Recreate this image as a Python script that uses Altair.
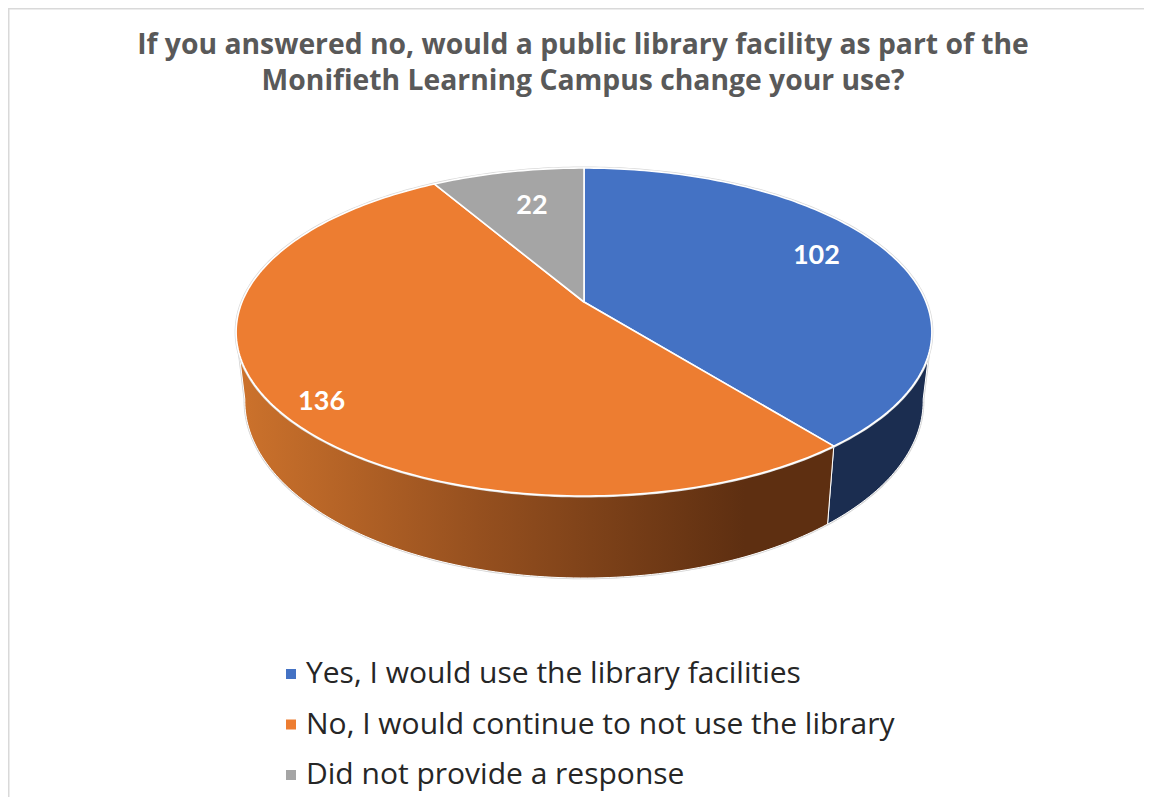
import math
import altair as alt
import pandas as pd

categories = ["Yes, I would use the library facilities",
              "No, I would continue to not use the library",
              "Did not provide a response"]
values = [102, 136, 22]
colors = ["#4472C4", "#ED7D31", "#A5A5A5"]
title_lines = ["If you answered no, would a public library facility as part of the",
               "Monifieth Learning Campus change your use?"]

# pie geometry (perspective projection of a disc onto the page)
CX, CY, A, B, K = 584.0, 302.0, 342.0, 158.5, 0.183
BX, BY0, BYS = 0.975, 368.5, 1.08
TOP_SIL, BOT_SIL = 108.0, 100.0


def top(t, r=1.0):
    u, v = math.sin(math.radians(t)) * r, math.cos(math.radians(t)) * r
    w = 1 + K * v
    return CX + A * u / w, CY - B * v / w


def bottom(t):
    u, v = math.sin(math.radians(t)), math.cos(math.radians(t))
    w = 1 + K * v
    return CX + BX * A * u / w, BY0 - BYS * B * v / w


def arange(a, b):
    n = max(2, int(abs(b - a)) + 1)
    return [a + (b - a) * i / (n - 1) for i in range(n)]


total = sum(values)
edges = [0.0]
for val in values:
    edges.append(edges[-1] + val / total * 360)

x_scale = alt.Scale(domain=[8, 1144], range=[0, 1136], nice=False, zero=False)
y_scale = alt.Scale(domain=[8, 797], range=[0, 789], nice=False, zero=False)
X = alt.X("x:Q", scale=x_scale, axis=None)
Y = alt.Y("y:Q", scale=y_scale, axis=None)


def poly(points, **mark):
    df = pd.DataFrame([{"x": p[0], "y": p[1], "i": i} for i, p in enumerate(points + points[:1])])
    return alt.Chart(df).mark_line(strokeJoin="round", clip=False, **mark).encode(
        x=X, y=Y, order=alt.Order("i:Q"))


blue_side = [top(t) for t in arange(TOP_SIL, edges[1])] + [bottom(t) for t in arange(edges[1], BOT_SIL)]
orange_side = [top(t) for t in arange(edges[1], 360 - TOP_SIL)] + [bottom(t) for t in arange(360 - BOT_SIL, edges[1])]
faces = [[(CX, CY)] + [top(t) for t in arange(edges[i], edges[i + 1])] for i in range(3)]
rim = [top(t) for t in arange(0, 360)]

orange_grad = alt.Gradient(gradient="linear", x1=0, x2=1, y1=0, y2=0, stops=[
    alt.GradientStop(offset=0, color="#CC722C"),
    alt.GradientStop(offset=0.4, color="#96501F"),
    alt.GradientStop(offset=0.85, color="#5E2F11"),
    alt.GradientStop(offset=1, color="#5E2F11")])

layers = []

# legend carrier, sits under the pie top
legend_df = pd.DataFrame({"category": categories, "x": [CX] * 3, "y": [CY] * 3})
layers.append(alt.Chart(legend_df).mark_square(size=30, opacity=1).encode(
    x=X, y=Y,
    color=alt.Color("category:N", sort=categories,
                    scale=alt.Scale(domain=categories, range=colors),
                    legend=alt.Legend(title=None, orient="none", legendX=268, legendY=651,
                                      symbolType="square", symbolSize=100, symbolOpacity=1,
                                      labelFont="Open Sans", labelFontSize=30, labelColor="#262626",
                                      labelLimit=700, rowPadding=20.5, labelOffset=0,
                                      symbolStrokeWidth=0))))

# sides
layers.append(poly(blue_side, fill="#1B2D50", stroke="#D2D2D2", strokeWidth=2.5))
layers.append(poly(orange_side, fill=orange_grad, stroke="#D2D2D2", strokeWidth=2.5))
layers.append(poly(blue_side, fill="#1B2D50", stroke="#FFFFFF", strokeWidth=1))
layers.append(poly(orange_side, fill=orange_grad, stroke="#FFFFFF", strokeWidth=1))

# top
layers.append(poly(rim, fill="#FFFFFF", stroke="#D9D9D9", strokeWidth=3))
for i in range(3):
    layers.append(poly(faces[i], fill=colors[i], stroke="#FFFFFF", strokeWidth=1.6))

# value labels
label_r = [0.76, 0.85, 0.70]
label_dx = [-2, 0, 4]
label_dy = [-8, 16, -1]
lab = []
for i, val in enumerate(values):
    lx, ly = top((edges[i] + edges[i + 1]) / 2, label_r[i])
    lab.append({"x": lx + label_dx[i], "y": ly + label_dy[i], "label": str(val)})
layers.append(alt.Chart(pd.DataFrame(lab)).mark_text(
    font="Lato", fontWeight="bold", fontSize=27, color="#FFFFFF", align="center", baseline="middle"
).encode(x=X, y=Y, text="label:N"))

# frame (left and top edges)
layers.append(alt.Chart(pd.DataFrame({"x": [8.5], "y": [8], "y2": [797]})).mark_rule(
    color="#D9D9D9", strokeWidth=2).encode(x=X, y=Y, y2="y2:Q"))
layers.append(alt.Chart(pd.DataFrame({"x": [8], "x2": [1144], "y": [8.5]})).mark_rule(
    color="#D9D9D9", strokeWidth=2).encode(x=X, x2="x2:Q", y=Y))

chart = alt.layer(*layers).properties(
    width=1136, height=789, padding=0, autosize=alt.AutoSizeParams(type="none"),
    background="#FFFFFF",
    title=alt.TitleParams(text=title_lines, font="Open Sans", fontWeight="bold", fontSize=28.3,
                          color="#595959", anchor="middle", baseline="middle",
                          lineHeight=36, offset=0, dy=103, dx=7),
).configure_view(stroke=None)

chart.save("out.html", embed_options={"renderer": "svg", "actions": False})
